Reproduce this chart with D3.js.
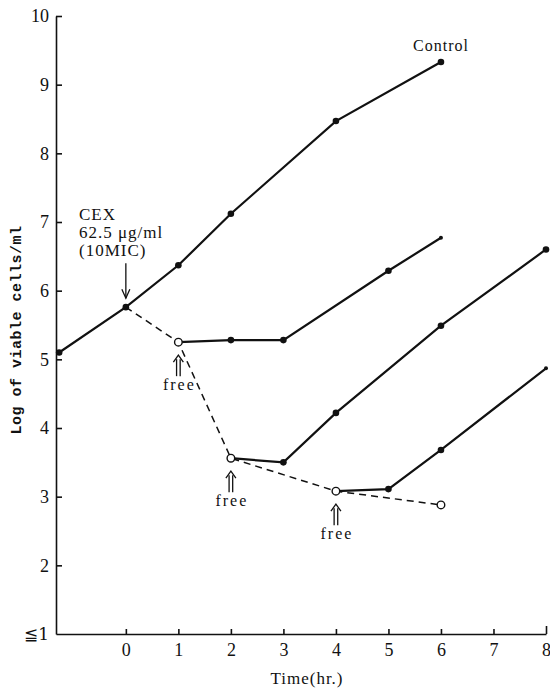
<!DOCTYPE html>
<html>
<head>
<meta charset="utf-8">
<script src="https://cdnjs.cloudflare.com/ajax/libs/d3/7.8.5/d3.min.js"></script>
<style>
  body { margin: 0; background: #fff; }
  text { fill: #111; }
</style>
</head>
<body>
<div id="graph"></div>
<script>
// values
var timeTicks = [0, 1, 2, 3, 4, 5, 6, 7, 8];
var logTicks = [1, 2, 3, 4, 5, 6, 7, 8, 9, 10];

var controlTime = [-1.27, 0, 1, 2, 4, 6];
var controlLog = [5.1, 5.76, 6.37, 7.12, 8.47, 9.33];

var cexTime = [0, 1, 2, 4, 6];
var cexLog = [5.76, 5.25, 3.56, 3.08, 2.88];

var free1Time = [1, 2, 3, 5, 6];
var free1Log = [5.25, 5.28, 5.28, 6.29, 6.77];

var free2Time = [2, 3, 4, 6, 8];
var free2Log = [3.56, 3.5, 4.22, 5.49, 6.6];

var free4Time = [4, 5, 6, 8];
var free4Log = [3.08, 3.11, 3.68, 4.87];

var freeAt = [1, 2, 4];

var width = 550, height = 689;
var svg = d3.select("#graph").append("svg")
    .attr("width", width).attr("height", height);

var x = d3.scaleLinear().domain([-1.33, 8]).range([56, 546]);
var y = d3.scaleLinear().domain([1, 10]).range([634, 16]);

var serif = "'Liberation Serif', 'DejaVu Serif', serif";
var ink = "#111";

// axes
var xAxis = svg.append("g")
    .attr("transform", "translate(0," + y(1) + ")")
    .call(d3.axisBottom(x).tickValues(timeTicks).tickSize(-5).tickSizeOuter(0).tickPadding(9));
var yAxis = svg.append("g")
    .attr("transform", "translate(" + x(-1.33) + ",0)")
    .call(d3.axisLeft(y).tickValues(logTicks).tickSize(-6).tickSizeOuter(0).tickPadding(7)
      .tickFormat(function(d) { return d == 1 ? "\u22661" : d; }));
[xAxis, yAxis].forEach(function(a) {
  a.selectAll("path, line").attr("stroke", ink).attr("stroke-width", 1.6);
  a.selectAll("text").attr("font-family", serif).attr("font-size", "18px").attr("fill", ink);
});
yAxis.selectAll(".tick line").filter(function(d) { return d == 1; }).remove();
yAxis.selectAll(".tick text").filter(function(d) { return d == 1; })
    .attr("font-family", "'DejaVu Serif', serif").attr("font-size", "17px");
xAxis.selectAll(".tick line").filter(function(d) { return d == 8; }).attr("y2", -8);

// axis titles
svg.append("text")
    .attr("transform", "translate(21," + 330 + ") rotate(-90)")
    .attr("text-anchor", "middle")
    .attr("font-family", "'Liberation Mono', 'DejaVu Sans Mono', monospace")
    .attr("font-size", "15px")
    .attr("font-weight", "bold")
    .attr("letter-spacing", "0.5px")
    .text("Log of viable cells/ml");
svg.append("text")
    .attr("x", 307).attr("y", 684)
    .attr("text-anchor", "middle")
    .attr("font-family", serif)
    .attr("font-size", "17px")
    .attr("letter-spacing", "1px")
    .text("Time(hr.)");

function pairs(ts, vs) {
  return ts.map(function(t, i) { return { t: t, v: vs[i] }; });
}

var line = d3.line()
    .x(function(d) { return x(d.t); })
    .y(function(d) { return y(d.v); });

var solid = [
  pairs(controlTime, controlLog),
  pairs(free1Time, free1Log),
  pairs(free2Time, free2Log),
  pairs(free4Time, free4Log)
];
var dashed = pairs(cexTime, cexLog);

svg.append("path")
    .datum(dashed)
    .attr("d", line)
    .attr("fill", "none")
    .attr("stroke", ink)
    .attr("stroke-width", 1.5)
    .attr("stroke-dasharray", "7,5");

svg.selectAll(".series").data(solid).enter().append("path")
    .attr("class", "series")
    .attr("d", line)
    .attr("fill", "none")
    .attr("stroke", ink)
    .attr("stroke-width", 2.2);

// filled dots: all solid points except the first of the freed series (open circles)
solid.forEach(function(s, si) {
  var pts = si == 0 ? s : s.slice(1);
  svg.selectAll(null).data(pts).enter().append("circle")
      .attr("cx", function(d) { return x(d.t); })
      .attr("cy", function(d) { return y(d.v); })
      .attr("r", function(d, i) {
        // free-1 and free-4 series end with a small tip
        return (i == pts.length - 1 && (si == 1 || si == 3)) ? 2 : 3.3;
      })
      .attr("fill", ink);
});

// open circles on the dashed line
svg.selectAll(".open").data(dashed.slice(1)).enter().append("circle")
    .attr("class", "open")
    .attr("cx", function(d) { return x(d.t); })
    .attr("cy", function(d) { return y(d.v); })
    .attr("r", 3.8)
    .attr("fill", "#fff")
    .attr("stroke", ink)
    .attr("stroke-width", 1.4);

// "free" double arrows
freeAt.forEach(function(t) {
  var v = cexLog[cexTime.indexOf(t)];
  var cx = x(t), top = y(v) + 13;
  var g = svg.append("g").attr("fill", "none").attr("stroke", ink).attr("stroke-width", 1.3);
  g.append("path").attr("d", "M" + (cx - 1.8) + "," + (top + 4) + "V" + (top + 21));
  g.append("path").attr("d", "M" + (cx + 1.8) + "," + (top + 4) + "V" + (top + 21));
  g.append("path").attr("d", "M" + (cx - 5) + "," + (top + 7) + "L" + cx + "," + top + "L" + (cx + 5) + "," + (top + 7));
  svg.append("text")
      .attr("x", cx + 1).attr("y", top + 35)
      .attr("text-anchor", "middle")
      .attr("font-family", serif)
      .attr("font-size", "16px")
      .attr("letter-spacing", "2px")
      .text("free");
});

// CEX annotation
var cexX = x(0), cexY = y(cexLog[0]);
svg.append("path")
    .attr("d", "M" + cexX + "," + (cexY - 44) + "V" + (cexY - 9))
    .attr("stroke", ink).attr("stroke-width", 1.3).attr("fill", "none");
svg.append("path")
    .attr("d", "M" + (cexX - 4) + "," + (cexY - 18) + "L" + cexX + "," + (cexY - 9) + "L" + (cexX + 4) + "," + (cexY - 18))
    .attr("stroke", ink).attr("stroke-width", 1.3).attr("fill", "none");
var cexText = svg.append("text")
    .attr("font-family", serif)
    .attr("font-size", "17px")
    .attr("letter-spacing", "1px");
["CEX", "62.5 \u03bcg/ml", "(10MIC)"].forEach(function(s, i) {
  cexText.append("tspan").attr("x", 79).attr("y", 220 + i * 18).text(s);
});

// Control label
var last = controlLog.length - 1;
svg.append("text")
    .attr("x", x(controlTime[last])).attr("y", y(controlLog[last]) - 11)
    .attr("text-anchor", "middle")
    .attr("font-family", serif)
    .attr("font-size", "16px")
    .attr("letter-spacing", "1px")
    .text("Control");
</script>
</body>
</html>
